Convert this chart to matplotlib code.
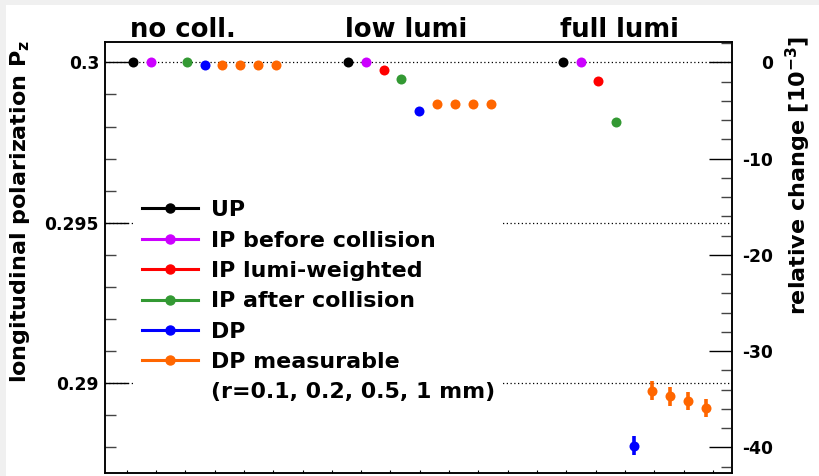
import numpy as np
import matplotlib
matplotlib.use("Agg")
import matplotlib.pyplot as plt
from matplotlib.lines import Line2D
from matplotlib.patches import Rectangle
from matplotlib.ticker import MultipleLocator, FixedLocator, FuncFormatter
from matplotlib.transforms import blended_transform_factory

plt.rcParams['font.family'] = ['DejaVu Sans']
plt.rcParams['font.weight'] = 'bold'
plt.rcParams['mathtext.default'] = 'bf'
plt.rcParams['axes.unicode_minus'] = False

# ---- data ---------------------------------------------------------------
scenarios = ["no coll.", "low lumi", "full lumi"]
series = ["UP", "IP before collision", "IP lumi-weighted",
          "IP after collision", "DP", "DP measurable"]
radii_label = "(r=0.1, 0.2, 0.5, 1 mm)"
colors = ["#000000", "#cc00ff", "#ff0000", "#339933", "#0000ff", "#ff6600"]

P0 = 0.3  # polarization at the undulator (UP)

# relative change w.r.t. UP, in units of 1e-3, one value per scenario
rel_up = [0.0, 0.0, 0.0]
rel_ip_before = [0.0, 0.0, 0.0]
rel_ip_lumi = [np.nan, -0.8, -1.9]
rel_ip_after = [0.0, -1.7, -6.2]
rel_dp = [-0.3, -5.1, -39.8]
err_dp = [0.0, 0.0, 0.95]
# DP measurable for r = 0.1, 0.2, 0.5, 1 mm
rel_dp_meas = [[-0.3, -0.3, -0.3, -0.3],
               [-4.3, -4.3, -4.3, -4.3],
               [-34.1, -34.7, -35.2, -35.9]]
err_dp_meas = [[0.0, 0.0, 0.0, 0.0],
               [0.0, 0.0, 0.0, 0.0],
               [0.97, 0.98, 0.95, 0.95]]

# ---- layout -------------------------------------------------------------
W, H = 819, 476
fig = plt.figure(figsize=(W / 100, H / 100), dpi=100, facecolor="#f0f0f0")
fig.patches.append(Rectangle((6 / W, 0), 1, 1 - 5 / H, transform=fig.transFigure,
                             facecolor="white", edgecolor="none", zorder=-10))

ax = fig.add_axes([105 / W, 3 / H, 627 / W, 431 / H])
ax.set_facecolor('none')
ax2 = ax.twinx()

group_width = 12
rtop, rbot = 2.11, -42.65
ax2.set_ylim(rbot, rtop)
ax.set_ylim(P0 * (1 + rbot * 1e-3), P0 * (1 + rtop * 1e-3))
ax.set_xlim(-1.56, 33.46)

# ---- points ---------------------------------------------------------------
single = [rel_up, rel_ip_before, rel_ip_lumi, rel_ip_after, rel_dp]
single_err = [None, None, None, None, err_dp]
for i, (vals, errs) in enumerate(zip(single, single_err)):
    xs = [group_width * g + i for g in range(len(scenarios))]
    if errs is None:
        ax2.plot(xs, vals, 'o', color=colors[i], ms=7.2, mew=0, zorder=3)
    else:
        ax2.errorbar(xs, vals, yerr=errs, fmt='o', color=colors[i], ms=7.2,
                     mew=0, elinewidth=2.6, capsize=0, zorder=3)

for g in range(len(scenarios)):
    xs = [group_width * g + 5 + k for k in range(len(rel_dp_meas[g]))]
    ax2.errorbar(xs, rel_dp_meas[g], yerr=err_dp_meas[g], fmt='o', color=colors[5],
                 ms=7.2, mew=0, elinewidth=2.6, capsize=0, zorder=3)

# ---- axes styling -----------------------------------------------------------
for a in (ax, ax2):
    for s in a.spines.values():
        s.set_linewidth(1.1)

ax.yaxis.set_major_locator(MultipleLocator(0.005))
ax.yaxis.set_minor_locator(MultipleLocator(0.001))
ax.yaxis.set_major_formatter(FuncFormatter(lambda v, p: f"{v:g}"))
ax.tick_params(axis='y', which='major', direction='in', length=16.5, width=1.0,
               labelsize=12.3, pad=4.3, right=False)
ax.tick_params(axis='y', which='minor', direction='in', length=8, width=1.0,
               color="#444444", right=False)
ax.yaxis.grid(True, which='major', linestyle=(0, (1, 2)), color='black', lw=0.9)

ax.xaxis.set_major_locator(FixedLocator(np.arange(-0.35, 33.4, 1.637)))
ax.tick_params(axis='x', which='both', direction='in', length=2.0, width=0.8,
               labelbottom=False, top=False)

ax2.yaxis.set_major_locator(MultipleLocator(10))
ax2.yaxis.set_minor_locator(MultipleLocator(2))
ax2.yaxis.set_major_formatter(FuncFormatter(lambda v, p: f"{v:g}"))
ax2.tick_params(axis='y', which='major', direction='in', length=16.5, width=1.0,
                labelsize=12.3, pad=29.5)
ax2.tick_params(axis='y', which='minor', direction='in', length=8, width=1.0,
                color="#444444")
for lbl in ax2.get_yticklabels():
    lbl.set_horizontalalignment('right')

# ---- scenario headers -------------------------------------------------------
trans = blended_transform_factory(ax.transData, fig.transFigure)
for g, name in enumerate(scenarios):
    ax.text(group_width * g - 0.17, 1 - 37 / H, name, transform=trans,
            ha='left', va='baseline', fontsize=18.6, fontweight='bold')

# ---- axis titles ------------------------------------------------------------
fig.text(20 / W, 1 - 40 / H, "longitudinal polarization P$_z$", rotation=90,
         ha='center', va='top', fontsize=16)
fig.text(798 / W, 1 - 36 / H, "relative change [10$^{-3}$]", rotation=90,
         ha='center', va='top', fontsize=16)

# ---- legend -----------------------------------------------------------------
handles = [Line2D([0], [0], color=c, lw=2.2, marker='o', ms=6.5) for c in colors]
labels = list(series)
handles.append(Line2D([], [], color='none'))
labels.append(radii_label)
leg = ax2.legend(handles, labels, loc='upper left',
                 bbox_to_anchor=(135 / W, 1 - 193.5 / H), bbox_transform=fig.transFigure,
                 frameon=True, facecolor='white', edgecolor='none', framealpha=1,
                 fancybox=False, fontsize=15.9, handlelength=2.55, handletextpad=0.6,
                 labelspacing=0.47, borderpad=0.3, borderaxespad=0)
leg.set_zorder(5)

fig.savefig("out.png", dpi=100, facecolor=fig.get_facecolor())
